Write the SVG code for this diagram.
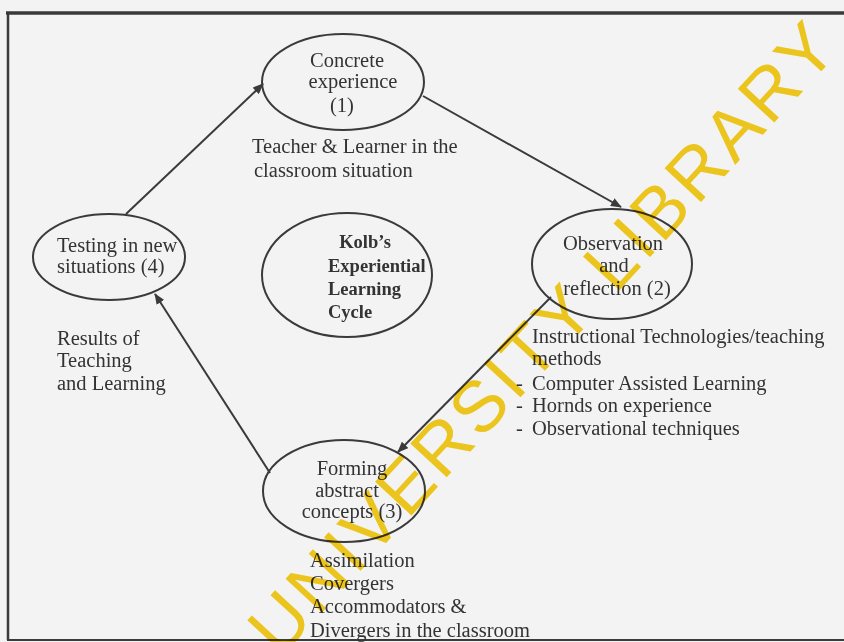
<svg xmlns="http://www.w3.org/2000/svg" width="844" height="642" viewBox="0 0 844 642">
  <defs>
    <marker id="ah" markerUnits="userSpaceOnUse" markerWidth="11" markerHeight="9" refX="10" refY="4.5" orient="auto">
      <path d="M0,0 L11,4.5 L0,9 z" fill="#3a3a3a"/>
    </marker>
    <style>
      .t { font-family: "Liberation Serif", "Times New Roman", serif; font-size: 20.5px; fill: #333; }
      .b { font-family: "Liberation Serif", "Times New Roman", serif; font-size: 18.5px; font-weight: bold; fill: #333; }
      .m { text-anchor: middle; }
      .node { fill: none; stroke: #3a3a3a; stroke-width: 2; }
      .edge { fill: none; stroke: #3a3a3a; stroke-width: 2; marker-end: url(#ah); }
      .wm { font-family: "Liberation Sans", Arial, sans-serif; font-size: 72px; fill: #f7cf1f; letter-spacing: 4px; mix-blend-mode: multiply; }
    </style>
  </defs>
  <rect x="0" y="0" width="844" height="642" fill="#f3f3f3"/>
  <g id="frame" stroke="#3a3a3a" fill="none">
    <line x1="6" y1="13" x2="844" y2="13" stroke-width="3.5"/>
    <line x1="8" y1="12" x2="8" y2="640" stroke-width="2.5"/>
    <line x1="7" y1="640" x2="844" y2="640" stroke-width="2"/>
  </g>

  <g id="connectors">
    <path class="edge" d="M126,214 L263,84"/>
    <path class="edge" d="M423,96 L621,207"/>
    <path class="edge" d="M551,297 L398,452"/>
    <path class="edge" d="M270,473 L155,294"/>
  </g>

  <g id="concrete">
    <ellipse class="node" cx="343" cy="82" rx="81" ry="48"/>
    <text class="t m" x="347" y="67">Concrete</text>
    <text class="t m" x="353" y="88">experience</text>
    <text class="t m" x="342" y="112">(1)</text>
  </g>
  <g id="concrete-note">
    <text class="t" x="252" y="153">Teacher &amp; Learner in the</text>
    <text class="t" x="254" y="177">classroom situation</text>
  </g>

  <g id="testing">
    <ellipse class="node" cx="109" cy="257" rx="76" ry="43"/>
    <text class="t" x="57" y="252">Testing in new</text>
    <text class="t" x="57" y="273">situations (4)</text>
  </g>
  <g id="testing-note">
    <text class="t" x="57" y="345">Results of</text>
    <text class="t" x="57" y="367">Teaching</text>
    <text class="t" x="57" y="390">and Learning</text>
  </g>

  <g id="kolb">
    <ellipse class="node" cx="347" cy="275" rx="85" ry="62"/>
    <text class="b m" x="365" y="248">Kolb’s</text>
    <text class="b" x="328" y="272">Experiential</text>
    <text class="b" x="328" y="295">Learning</text>
    <text class="b" x="328" y="318">Cycle</text>
  </g>

  <g id="observation">
    <ellipse class="node" cx="612" cy="264" rx="80" ry="55"/>
    <text class="t m" x="613" y="250">Observation</text>
    <text class="t m" x="614" y="272">and</text>
    <text class="t m" x="617" y="295">reflection (2)</text>
  </g>
  <g id="observation-note">
    <text class="t" x="532" y="343">Instructional Technologies/teaching</text>
    <text class="t" x="532" y="365">methods</text>
    <text class="t" x="516" y="390">-</text>
    <text class="t" x="532" y="390">Computer Assisted Learning</text>
    <text class="t" x="516" y="412">-</text>
    <text class="t" x="532" y="412">Hornds on experience</text>
    <text class="t" x="516" y="435">-</text>
    <text class="t" x="532" y="435">Observational techniques</text>
  </g>

  <g id="forming">
    <ellipse class="node" cx="344" cy="491" rx="81" ry="51"/>
    <text class="t m" x="352" y="475">Forming</text>
    <text class="t m" x="347" y="497">abstract</text>
    <text class="t m" x="352" y="518">concepts (3)</text>
  </g>
  <g id="forming-note">
    <text class="t" x="310" y="567">Assimilation</text>
    <text class="t" x="310" y="590">Covergers</text>
    <text class="t" x="310" y="613">Accommodators &amp;</text>
    <text class="t" x="310" y="637">Divergers in the classroom</text>
  </g>

  <g id="watermark">
    <text class="wm" transform="translate(280,658) rotate(-47.3)">UNIVERSITY LIBRARY</text>
  </g>
</svg>
